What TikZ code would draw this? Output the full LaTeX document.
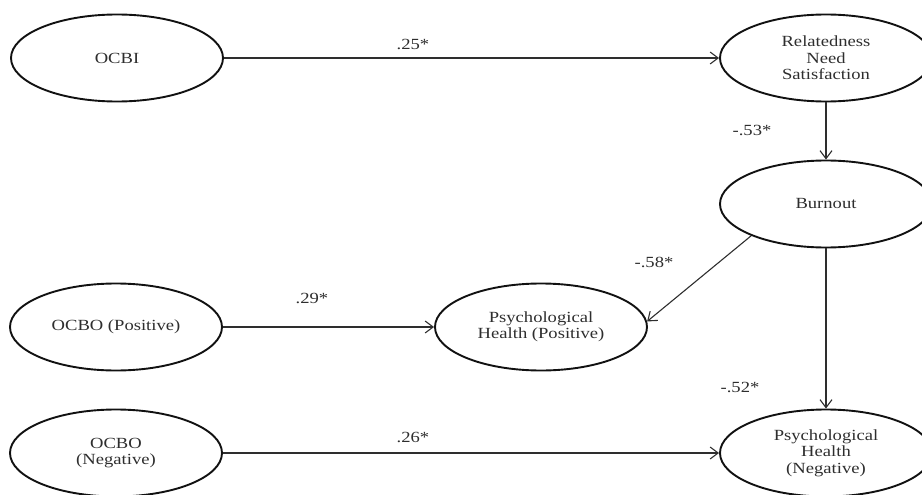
\documentclass[tikz,border=0pt]{standalone}
\usepackage{fontspec}
\setmainfont{Liberation Serif}[FakeStretch=1.2]
\usetikzlibrary{shapes.geometric,arrows.meta}
\definecolor{ink}{HTML}{2E2E2E}
\definecolor{rim}{HTML}{111111}
\tikzset{
  latent/.style={ellipse, draw=rim, line width=1.9pt, text=ink, align=center,
    inner sep=0pt, minimum width=212pt, minimum height=87pt,
    font=\fontsize{15.5}{16.5}\selectfont},
  path/.style={draw=ink, line width=1.1pt,
    -{Straight Barb[length=8pt,width=12pt,line width=1.1pt]}},
  coef/.style={text=ink, inner sep=0pt, font=\fontsize{15.5}{16}\selectfont}
}
\begin{document}
\begin{tikzpicture}[x=1pt,y=-1pt]
\useasboundingbox (0,0) rectangle (922,495);
% latent variables
\node[latent] (ocbi) at (117,58) {OCBI};
\node[latent] (rel)  at (826,58) {Relatedness\\Need\\Satisfaction};
\node[latent] (burn) at (826,204) {Burnout};
\node[latent] (ocbop) at (116,327) {OCBO (Positive)};
\node[latent] (php)  at (541,327) {Psychological\\Health (Positive)};
\node[latent] (ocbon) at (116,453) {OCBO\\(Negative)};
\node[latent] (phn)  at (826,453) {Psychological\\Health\\(Negative)};
% structural paths
\draw[path] (ocbi.east) -- (rel.west);
\draw[path] (rel.south) -- (burn.north);
\draw[path] (burn.203) -- (php.3);
\draw[path] (burn.south) -- (phn.north);
\draw[path] (ocbop.east) -- (php.west);
\draw[path] (ocbon.east) -- (phn.west);
% path coefficients
\node[coef] (c1) at (413,44) {.25*};
\node[coef] (c2) at (752,130) {-.53*};
\node[coef] (c3) at (654,262) {-.58*};
\node[coef] (c4) at (312,298) {.29*};
\node[coef] (c5) at (740,387) {-.52*};
\node[coef] (c6) at (413,437) {.26*};
\end{tikzpicture}
\end{document}
